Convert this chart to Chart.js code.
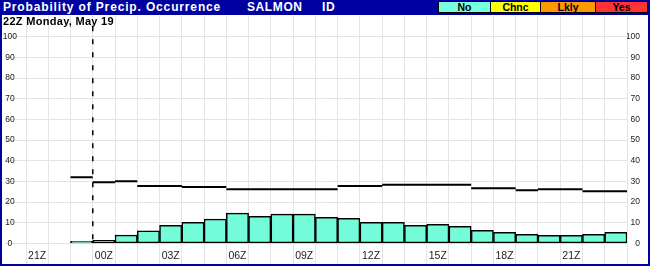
<!DOCTYPE html>
<html>
<head>
<meta charset="utf-8">
<script src="https://cdn.jsdelivr.net/npm/chart.js@4/dist/chart.umd.min.js"></script>
<style>
body { margin: 0; background: #fff; }
#frame { position: relative; width: 650px; height: 266px; background: #0000a0; overflow: hidden; font-family: "Liberation Sans", Arial, sans-serif; }
#plot { position: absolute; left: 2px; top: 15px; width: 646px; height: 249px; background: #fff; }
.hd { position: absolute; top: 0; line-height: 15px; color: #fff; font-weight: bold; font-size: 12px; letter-spacing: 0.6px; white-space: pre; }
#sub { position: absolute; left: 3px; top: 14px; line-height: 14px; font-size: 11px; font-weight: bold; letter-spacing: 0.3px; color: #000; }
.key { position: absolute; top: 1px; height: 12px; box-sizing: border-box; border: 1px solid #000; font-size: 10.5px; font-weight: bold; text-align: center; line-height: 10px; color: #000; }
</style>
</head>
<body>
<div id="frame">
  <div id="plot"><canvas id="pop-canvas" width="646" height="249"></canvas></div>
  <span class="hd" style="left:3px;letter-spacing:0.85px">Probability of Precip. Occurrence</span>
  <span class="hd" style="left:247px">SALMON</span>
  <span class="hd" style="left:322px">ID</span>
  <div class="key" style="left:438px;width:53px;background:#77ffdd">No</div>
  <div class="key" style="left:490px;width:51px;background:#ffff00">Chnc</div>
  <div class="key" style="left:540px;width:56px;background:#ff9900">Lkly</div>
  <div class="key" style="left:595px;width:53px;background:#ff3333">Yes</div>
  <div id="sub">22Z Monday, May 19</div>
</div>
<script>
// hourly categories
var hours = ['21Z', '22Z', '23Z', '00Z', '01Z', '02Z', '03Z', '04Z', '05Z', '06Z', '07Z', '08Z', '09Z', '10Z',
             '11Z', '12Z', '13Z', '14Z', '15Z', '16Z', '17Z', '18Z', '19Z', '20Z', '21Z', '22Z', '23Z'];
// forecast probability (bars)
var popValues = [null, null, 1, 1.5, 4, 6, 8.7, 10.2, 11.7, 14.6, 13.1, 14.1, 14.1, 12.6, 12.1, 10.2, 10.2,
                 8.7, 9.2, 8.2, 6.3, 5.3, 4.4, 3.9, 3.9, 4.4, 5.3];
// climatological probability (step line)
var normals = [null, null, 32, 29.6, 30.1, 27.7, 27.7, 27.2, 27.2, 26.2, 26.2, 26.2, 26.2, 26.2, 27.7, 27.7,
               28.3, 28.3, 28.3, 28.3, 26.7, 26.7, 25.7, 26.2, 26.2, 25.2, 25.2];
var yLabels = [0, 10, 20, 30, 40, 50, 60, 70, 80, 90, 100];
var nowPos = 2.5;   // current time marker, between 23Z and 00Z
var nowTop = 105;

var fontFamily = '"Liberation Sans", Arial, sans-serif';

// one flat segment per hour, broken between hours
var segs = [];
for (var i = 0; i < normals.length; i++) {
    if (normals[i] == null) continue;
    segs.push({x: i - 0.5, y: normals[i]}, {x: i + 0.5, y: normals[i]}, {x: i + 0.5, y: null});
}
var nowLine = [{x: nowPos, y: nowTop}, {x: nowPos, y: 0}];

var yTick = function(v) {
    return yLabels.indexOf(v) >= 0 ? v : null;
};
var noPad = function(s) {
    s.paddingTop = 0; s.paddingBottom = 0; s.paddingLeft = 0; s.paddingRight = 0;
};

var ctx = document.getElementById('pop-canvas').getContext('2d');
var chart = new Chart(ctx, {
    type: 'bar',
    data: {
        labels: hours,
        datasets: [{
            type: 'line',
            data: segs,
            xAxisID: 'x2',
            borderColor: '#000',
            borderWidth: 2,
            pointRadius: 0,
            spanGaps: false,
            order: 1
        }, {
            type: 'line',
            data: nowLine,
            xAxisID: 'x2',
            borderColor: '#000',
            borderWidth: 1.5,
            borderDash: [5, 8],
            pointRadius: 0,
            order: 0
        }, {
            data: popValues,
            backgroundColor: '#74fbda',
            borderColor: '#000',
            borderWidth: 1.5,
            borderSkipped: false,
            grouped: false,
            barPercentage: 1,
            categoryPercentage: 1,
            order: 2
        }]
    },
    options: {
        responsive: false,
        animation: false,
        devicePixelRatio: 1,
        layout: {padding: {top: 1, right: 8, bottom: 0, left: 0}},
        plugins: {legend: {display: false}, tooltip: {enabled: false}},
        scales: {
            x: {
                offset: true,
                grid: {color: '#e4e4e4', drawTicks: false, offset: true},
                border: {display: false},
                ticks: {
                    autoSkip: false, maxRotation: 0, mirror: true, padding: 2, color: '#222',
                    font: {family: fontFamily, size: 10.5},
                    callback: function(v, idx) { return idx % 3 === 0 ? hours[idx] : ''; }
                },
                afterFit: function(s) { s.height = 0; noPad(s); }
            },
            x2: {type: 'linear', display: false, offset: false, min: -0.5, max: hours.length - 0.5},
            y: {
                min: -10, max: 110,
                grid: {color: '#e4e4e4', tickLength: 21},
                border: {display: false},
                ticks: {stepSize: 10, padding: -12, crossAlign: 'center', color: '#222',
                        font: {family: fontFamily, size: 8.5}, callback: yTick},
                afterFit: function(s) { s.width = 24; noPad(s); }
            },
            y2: {
                position: 'right',
                min: -10, max: 110,
                grid: {display: false},
                border: {display: false},
                ticks: {stepSize: 10, crossAlign: 'far', color: '#222',
                        font: {family: fontFamily, size: 8.5}, callback: yTick},
                afterFit: function(s) { s.width = 13; noPad(s); }
            }
        }
    }
});
</script>
</body>
</html>
